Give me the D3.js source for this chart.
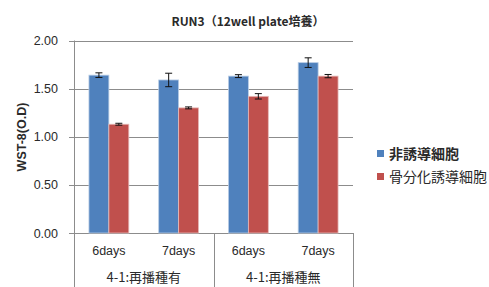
<!DOCTYPE html>
<html>
<head>
<meta charset="utf-8">
<script src="https://cdn.jsdelivr.net/npm/d3@7"></script>
<style>
  body { margin: 0; background: #fff; }
  text { font-family: "Liberation Sans", "Noto Sans CJK JP", sans-serif; fill: #2a2a2a; }
  .jp { font-family: "Noto Sans CJK JP", sans-serif; }
</style>
</head>
<body>
<div id="chart"></div>
<script>
// Data
var groups = ["4-1:再播種有", "4-1:再播種無"];
var days = ["6days", "7days"];
var seriesNames = ["非誘導細胞", "骨分化誘導細胞"];
var nonInduced = [1.64, 1.59, 1.63, 1.77];
var osteoInduced = [1.13, 1.30, 1.42, 1.63];
var nonInducedErr = [0.024, 0.07, 0.015, 0.05];
var osteoInducedErr = [0.01, 0.01, 0.028, 0.017];
var yTicks = [0, 0.5, 1.0, 1.5, 2.0];

var colors = ["#4F81BD", "#C0504D"];
var borders = ["#b9cde5", "#e6b9b8"];

var svgWidth = 489;
var svgHeight = 287;

// plot area (window.top is reserved, so use plot* names)
var plotLeft = 74, plotRight = 353, plotTop = 40.5, plotBottom = 233;

var svg = d3.select("#chart")
    .append("svg")
    .attr("width", svgWidth)
    .attr("height", svgHeight);

// build the 4 categories from groups x days
var cats = [];
groups.forEach(function (g, gi) {
    days.forEach(function (d, di) {
        cats.push({ key: g + "|" + d, group: g, day: d, i: gi * days.length + di });
    });
});

var x0 = d3.scaleBand()
    .domain(cats.map(c => c.key))
    .range([plotLeft, plotRight]);

var x1 = d3.scaleBand()
    .domain(seriesNames)
    .range([0, x0.bandwidth()])
    .paddingOuter(0.75);

var y = d3.scaleLinear()
    .domain([0, 2])
    .range([plotBottom, plotTop]);

// gridlines
svg.append("g")
    .selectAll("line")
    .data(yTicks)
    .enter()
    .append("line")
    .attr("x1", plotLeft - 5)
    .attr("x2", plotRight)
    .attr("y1", d => Math.round(y(d)) + 0.5)
    .attr("y2", d => Math.round(y(d)) + 0.5)
    .attr("stroke", "#8c8c8c")
    .attr("stroke-width", 1);

// y tick labels
svg.append("g")
    .selectAll("text")
    .data(yTicks)
    .enter()
    .append("text")
    .attr("x", 58)
    .attr("y", d => y(d) + 4.5)
    .attr("text-anchor", "end")
    .style("font-size", "12.5px")
    .text(d => d.toFixed(2));

// bars
var table = cats.map(c => ({
    key: c.key,
    vals: [nonInduced[c.i], osteoInduced[c.i]],
    errs: [nonInducedErr[c.i], osteoInducedErr[c.i]]
}));

var catGroup = svg.append("g")
    .selectAll("g")
    .data(table)
    .enter()
    .append("g")
    .attr("transform", d => `translate(${x0(d.key)},0)`);

seriesNames.forEach(function (s, si) {
    catGroup.append("rect")
        .attr("x", x1(s))
        .attr("y", d => y(d.vals[si]))
        .attr("width", x1.bandwidth())
        .attr("height", d => y(0) - y(d.vals[si]))
        .attr("fill", colors[si])
        .attr("stroke", borders[si])
        .attr("stroke-width", 0.8);

    // error bars
    var cx = x1(s) + x1.bandwidth() / 2;
    var eb = catGroup.append("g").attr("stroke", "#111").attr("stroke-width", 1);
    eb.append("line")
        .attr("x1", cx).attr("x2", cx)
        .attr("y1", d => y(d.vals[si] + d.errs[si]))
        .attr("y2", d => y(d.vals[si] - d.errs[si]));
    eb.append("line")
        .attr("x1", cx - 3.5).attr("x2", cx + 3.5)
        .attr("y1", d => y(d.vals[si] + d.errs[si]))
        .attr("y2", d => y(d.vals[si] + d.errs[si]));
    eb.append("line")
        .attr("x1", cx - 3.5).attr("x2", cx + 3.5)
        .attr("y1", d => y(d.vals[si] - d.errs[si]))
        .attr("y2", d => y(d.vals[si] - d.errs[si]));
});

// axes lines
svg.append("line")
    .attr("x1", plotLeft + 0.5).attr("x2", plotLeft + 0.5)
    .attr("y1", plotTop).attr("y2", svgHeight)
    .attr("stroke", "#8c8c8c");

var groupWidth = (plotRight - plotLeft) / groups.length;
groups.forEach(function (g, gi) {
    var xe = plotLeft + groupWidth * (gi + 1);
    svg.append("line")
        .attr("x1", Math.round(xe) + 0.5).attr("x2", Math.round(xe) + 0.5)
        .attr("y1", plotBottom).attr("y2", svgHeight)
        .attr("stroke", "#8c8c8c");
    svg.append("text")
        .attr("class", "jp")
        .attr("x", plotLeft + groupWidth * (gi + 0.5))
        .attr("y", 282)
        .attr("text-anchor", "middle")
        .style("font-size", "13px")
        .text(g);
});

// day labels
svg.append("g")
    .selectAll("text")
    .data(cats)
    .enter()
    .append("text")
    .attr("x", d => x0(d.key) + x0.bandwidth() / 2)
    .attr("y", 255)
    .attr("text-anchor", "middle")
    .style("font-size", "12.5px")
    .text(d => d.day);

// title
svg.append("text")
    .attr("class", "jp")
    .attr("x", 248)
    .attr("y", 26)
    .attr("text-anchor", "middle")
    .style("font-size", "12px")
    .style("font-weight", "bold")
    .text("RUN3（12well plate培養）");

// y axis title
svg.append("text")
    .attr("transform", `translate(26, 137) rotate(-90)`)
    .attr("text-anchor", "middle")
    .style("font-size", "12.5px")
    .style("font-weight", "bold")
    .text("WST-8(O.D)");

// legend
var legend = svg.append("g")
    .selectAll("g")
    .data(seriesNames)
    .enter()
    .append("g")
    .attr("transform", (d, i) => `translate(377, ${153.5 + i * 23})`);

legend.append("rect")
    .attr("x", 0)
    .attr("y", -3.5)
    .attr("width", 7)
    .attr("height", 7)
    .attr("fill", (d, i) => colors[i]);

legend.append("text")
    .attr("class", "jp")
    .attr("x", 12)
    .attr("y", 5)
    .style("font-size", "14px")
    .style("font-weight", (d, i) => i === 0 ? "bold" : "normal")
    .text(d => d);
</script>
</body>
</html>
